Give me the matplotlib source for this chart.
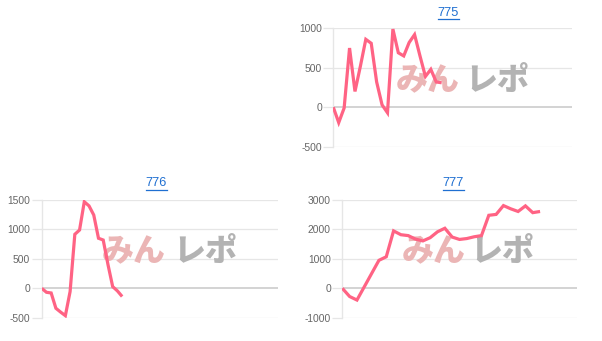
import matplotlib
matplotlib.use("Agg")
import matplotlib.pyplot as plt
from matplotlib.lines import Line2D

plt.rcParams['font.family'] = ['Liberation Sans', 'DejaVu Sans']

W, H = 602, 341

# ---- data ----
titles = ["775", "776", "777"]
values_775 = [0, -195, -10, 750, 200, 520, 860, 810, 320, 30, -70, 990, 690,
              650, 820, 920, 650, 390, 480, 320, 310]
values_776 = [0, -68, -80, -340, -405, -465, -57, 917, 990, 1470, 1400, 1245,
              850, 820, 405, 28, -45, -140]
values_777 = [0, -280, -400, 50, 500, 950, 1070, 1950, 1820, 1790, 1670, 1610,
              1720, 1920, 2040, 1740, 1660, 1690, 1750, 1790, 2480, 2510, 2810,
              2700, 2610, 2800, 2570, 2610]
yticks_775 = [-500, 0, 500, 1000]
yticks_776 = [-500, 0, 500, 1000, 1500]
yticks_777 = [-1000, 0, 1000, 2000, 3000]
xmax_775, xmax_776, xmax_777 = 44, 50, 32

LINE = '#ff6384'
GRID = '#e6e6e6'
ZERO = '#cccccc'
TICKC = '#666666'
LINK = '#1f6fd1'

fig = plt.figure(figsize=(W / 100, H / 100), dpi=100)
fig.patch.set_facecolor('white')


def px_axes(left, top, right, bottom):
    return fig.add_axes([left / W, 1 - bottom / H, (right - left) / W, (bottom - top) / H])


def style(ax, vals, yticks, xmax):
    ax.plot(range(len(vals)), vals, color=LINE, lw=2.3, zorder=3,
            solid_joinstyle='miter', solid_capstyle='butt')
    ax.set_xlim(0, xmax)
    ax.set_ylim(yticks[0], yticks[-1])
    ax.set_yticks(yticks)
    ax.set_yticklabels([str(t) for t in yticks])
    ax.set_xticks([])
    for s in ['top', 'right', 'bottom']:
        ax.spines[s].set_visible(False)
    ax.spines['left'].set_color(GRID)
    ax.spines['left'].set_linewidth(1.0)
    ax.tick_params(axis='y', length=7.2, width=0.9, color=GRID, pad=1,
                   labelcolor=TICKC, labelsize=7.4)
    ax.grid(axis='y', color=GRID, lw=0.9)
    ax.set_axisbelow(True)
    for t, gl in zip(yticks, ax.get_ygridlines()):
        if t == 0:
            gl.set_color(ZERO)
            gl.set_linewidth(1.2)
    ax.patch.set_alpha(0)


def watermark(ax, cx1, cx2, cy):
    ax.text(cx1 / W, 1 - cy / H, 'みん', transform=fig.transFigure, ha='center',
            va='center', fontsize=23, fontweight='black', color='#ebb5b5',
            family=['Noto Sans CJK JP'], zorder=1)
    ax.text(cx2 / W, 1 - cy / H, 'レポ', transform=fig.transFigure, ha='center',
            va='center', fontsize=23, fontweight='black', color='#b3b3b3',
            family=['Noto Sans CJK JP'], zorder=1)


ax1 = px_axes(333.3, 28.3, 571.7, 146.7)
style(ax1, values_775, yticks_775, xmax_775)
watermark(ax1, 428, 497, 80)

ax2 = px_axes(41.7, 200, 278.3, 317.7)
style(ax2, values_776, yticks_776, xmax_776)
watermark(ax2, 134, 205, 251.5)

ax3 = px_axes(342.3, 200, 576.7, 317.7)
style(ax3, values_777, yticks_777, xmax_777)
watermark(ax3, 434, 502, 251.5)

title_pos = [(448.3, 12.8), (156.3, 183.3), (453.3, 183.3)]
tobjs = []
for name, (x, y) in zip(titles, title_pos):
    tobjs.append(fig.text(x / W, 1 - y / H, name, ha='center', va='center',
                          fontsize=9.2, color=LINK))

fig.canvas.draw()
r = fig.canvas.get_renderer()
for t in tobjs:
    bb = t.get_window_extent(r)
    yline = bb.y0 - 0.5
    fig.add_artist(Line2D([bb.x0 / W, bb.x1 / W], [yline / H, yline / H],
                          transform=fig.transFigure, color=LINK, lw=0.9))

fig.savefig('out.png', dpi=100, facecolor='white')
